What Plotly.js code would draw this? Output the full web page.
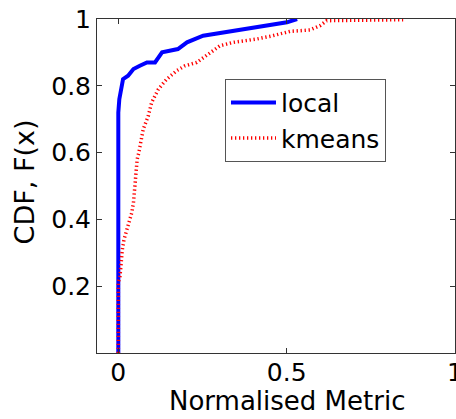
<!DOCTYPE html>
<html>
<head>
<meta charset="utf-8">
<script src="https://cdn.plot.ly/plotly-3.0.1.min.js"></script>
<style>html,body{margin:0;padding:0;background:#fff;}#chart{width:456px;height:419px;}</style>
</head>
<body>
<div id="chart"></div>
<script>
// local CDF: normalised metric values and cumulative probability
var localX = [0, 0, 0.003, 0.014, 0.029, 0.045, 0.064, 0.085, 0.109, 0.130, 0.177, 0.204, 0.252, 0.311, 0.361, 0.441, 0.501, 0.531];
var localF = [0, 0.72, 0.76, 0.82, 0.83, 0.85, 0.86, 0.87, 0.87, 0.90, 0.91, 0.93, 0.95, 0.96, 0.967, 0.98, 0.99, 1.0];
// kmeans CDF
var kmeansX = [0, 0, 0.005, 0.008, 0.012, 0.017, 0.025, 0.032, 0.040, 0.045, 0.048, 0.052, 0.055, 0.056, 0.061, 0.064, 0.074, 0.089, 0.099, 0.119, 0.144, 0.173, 0.198, 0.233, 0.272, 0.302, 0.341, 0.411, 0.459, 0.510, 0.569, 0.599, 0.619, 0.846];
var kmeansF = [0, 0.21, 0.23, 0.28, 0.31, 0.34, 0.37, 0.40, 0.42, 0.45, 0.48, 0.52, 0.55, 0.58, 0.60, 0.62, 0.67, 0.71, 0.75, 0.79, 0.82, 0.845, 0.86, 0.87, 0.90, 0.92, 0.93, 0.94, 0.95, 0.963, 0.967, 0.98, 0.995, 0.998];
var xTicks = [0, 0.5, 1];
var xTickText = ['0', '0.5', '1'];
var yTicks = [0.2, 0.4, 0.6, 0.8, 1];
var yTickText = ['0.2', '0.4', '0.6', '0.8', '1'];

var FONT = 'DejaVu Sans, Liberation Sans, Arial, sans-serif';

var traces = [
  {x: localX, y: localF, name: 'local', mode: 'lines', type: 'scatter',
   line: {color: 'rgb(0,0,255)', width: 4}},
  {x: kmeansX, y: kmeansF, name: 'kmeans', mode: 'lines', type: 'scatter',
   line: {color: 'rgb(255,0,0)', width: 3.5, dash: '1.3px,2.7px'}}
];

var axisCommon = {
  showgrid: false, zeroline: false, showline: true, linecolor: '#333', linewidth: 1,
  mirror: 'ticks', ticks: 'inside', ticklen: 5, tickwidth: 1, tickcolor: '#333',
  tickfont: {family: FONT, size: 25, color: '#000'}, ticklabeloverflow: 'allow'
};

var layout = {
  width: 456, height: 419,
  margin: {l: 97, r: 1, t: 19, b: 66},
  paper_bgcolor: '#fff', plot_bgcolor: '#fff',
  font: {family: FONT, size: 25, color: '#000'},
  showlegend: true,
  legend: {x: 0.3575, y: 0.821, xanchor: 'left', yanchor: 'top', itemwidth: 45,
           bordercolor: '#555', borderwidth: 1, bgcolor: '#fff',
           font: {family: FONT, size: 25, color: '#000'}},
  xaxis: Object.assign({}, axisCommon, {range: [-0.0633, 1], tickmode: 'array', tickvals: xTicks, ticktext: xTickText, ticklabelstandoff: -3}),
  yaxis: Object.assign({}, axisCommon, {range: [0, 1], tickmode: 'array', tickvals: yTicks, ticktext: yTickText}),
  annotations: [
    {text: 'Normalised Metric', xref: 'x', yref: 'paper', x: 0.5, y: -0.143, xanchor: 'center', yanchor: 'middle',
     showarrow: false, font: {family: FONT, size: 26, color: '#000'}},
    {text: 'CDF, F(x)', xref: 'paper', yref: 'paper', x: -0.2, y: 0.512, xanchor: 'center', yanchor: 'middle',
     textangle: -90, showarrow: false, font: {family: FONT, size: 27, color: '#000'}}
  ]
};

Plotly.newPlot('chart', traces, layout, {displayModeBar: false, staticPlot: true});
</script>
</body>
</html>
